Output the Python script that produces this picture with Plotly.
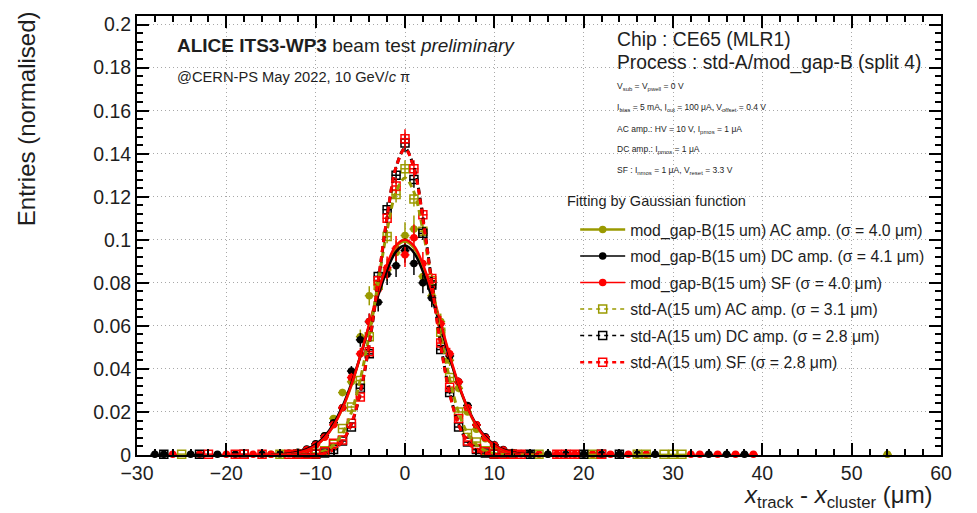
"""CE65 residual distributions (std-A vs mod_gap-B) with Gaussian fits."""

import plotly.graph_objects as go

# ---- data ----
# mod_gap-B, AC amp. (filled olive)
modac_x = [-15, -13, -12, -11, -10, -9, -8, -7, -6, -5, -4, -3, -2, -1, 0, 1, 2, 3, 4, 5,
           6, 7, 8, 9, 10, 11, 12, 14, 16, 21, 54]
modac_y = [0.0004, 0.0008, 0.0012, 0.0025, 0.005, 0.009, 0.017, 0.029, 0.034, 0.055, 0.074,
           0.079, 0.086, 0.094, 0.102, 0.105, 0.083, 0.074, 0.062, 0.044, 0.031, 0.020, 0.012,
           0.0075, 0.004, 0.0022, 0.001, 0.0005, 0.0004, 0.0004, 0.0003]

# mod_gap-B, DC amp. (filled black)
moddc_x = [-28, -27, -24, -21, -19, -16, -14, -13, -12, -11, -10, -9, -8, -7, -6, -5, -4, -3,
           -2, -1, 0, 1, 2, 3, 4, 5, 6, 7, 8, 9, 10, 11, 12, 13, 14, 16, 18, 20, 22, 24, 26,
           28, 34, 36, 38]
moddc_y = [0.0003, 0.0003, 0.0003, 0.0003, 0.0003, 0.0004, 0.0005, 0.0008, 0.0013, 0.0028,
           0.0052, 0.009, 0.015, 0.022, 0.039, 0.0535, 0.062, 0.071, 0.084, 0.088, 0.095,
           0.089, 0.080, 0.073, 0.058, 0.046, 0.034, 0.023, 0.014, 0.0085, 0.0048, 0.0026,
           0.0012, 0.0007, 0.0005, 0.0003, 0.0003, 0.0003, 0.0003, 0.0003, 0.0003, 0.0003,
           0.0003, 0.0003, 0.0003]

# mod_gap-B, SF (filled red)
modsf_x = [-26, -23, -20, -17, -15, -13, -12, -11, -10, -9, -8, -7, -6, -5, -4, -3, -2, -1, 0,
           1, 2, 3, 4, 5, 6, 7, 8, 9, 10, 11, 12, 13, 15, 17, 19, 21, 23, 25, 27, 32, 33, 35,
           37, 39]
modsf_y = [0.0003, 0.0003, 0.0003, 0.0003, 0.0003, 0.0006, 0.0011, 0.0024, 0.0046, 0.0082,
           0.014, 0.022, 0.036, 0.047, 0.062, 0.077, 0.087, 0.096, 0.093, 0.101, 0.089, 0.078,
           0.061, 0.047, 0.034, 0.022, 0.014, 0.008, 0.0045, 0.0023, 0.0011, 0.0006, 0.0003,
           0.0003, 0.0003, 0.0003, 0.0003, 0.0003, 0.0003, 0.0003, 0.0003, 0.0003, 0.0003,
           0.0003]

# std-A, AC amp. (open olive)
stdac_x = [-25, -14, -12, -11, -10, -9, -8, -7, -6, -5, -4, -3, -2, -1, 0, 1, 2, 3, 4, 5, 6,
           7, 8, 9, 10, 11, 12, 15, 21, 26, 27, 29, 30, 31]
stdac_y = [0.0004, 0.0004, 0.0004, 0.0005, 0.0008, 0.002, 0.005, 0.0123, 0.0223, 0.0346,
           0.055, 0.079, 0.1015, 0.121, 0.133, 0.119, 0.104, 0.081, 0.057, 0.036, 0.020,
           0.010, 0.006, 0.002, 0.0008, 0.0004, 0.0004, 0.0003, 0.0003, 0.0003, 0.0003,
           0.0003, 0.0003, 0.0003]

# std-A, DC amp. (open black)
stddc_x = [-27, -23, -18, -12, -11, -10, -9, -8, -7, -6, -5, -4, -3, -2, -1, 0, 1, 2, 3, 4,
           5, 6, 7, 8, 9, 10, 11, 12, 14, 20, 22, 24]
stddc_y = [0.0003, 0.0003, 0.0003, 0.0004, 0.0005, 0.0003, 0.0009, 0.0025, 0.0065, 0.013,
           0.031, 0.047, 0.083, 0.114, 0.130, 0.145, 0.128, 0.103, 0.079, 0.049, 0.029,
           0.013, 0.006, 0.0025, 0.0009, 0.0003, 0.0004, 0.0003, 0.0003, 0.0003, 0.0003,
           0.0003]

# std-A, SF (open red)
stdsf_x = [-22, -19, -18, -16, -13, -12, -11, -10, -9, -8, -7, -6, -5, -4, -3, -2, -1, 0, 1,
           2, 3, 4, 5, 6, 7, 8, 9, 10, 11, 12, 13, 17, 18, 19, 22]
stdsf_y = [0.0004, 0.0004, 0.0004, 0.0004, 0.0004, 0.0004, 0.0004, 0.0005, 0.0015, 0.0055,
           0.007, 0.0147, 0.027, 0.048, 0.081, 0.110, 0.125, 0.147, 0.133, 0.1116, 0.082,
           0.052, 0.0315, 0.017, 0.0065, 0.003, 0.0015, 0.0005, 0.0004, 0.0004, 0.0004,
           0.0004, 0.0004, 0.0004, 0.0004]

# Gaussian fit curves, sampled every 1 um
fit_x = [-15, -14, -13, -12, -11, -10, -9, -8, -7, -6, -5, -4, -3, -2, -1, 0,
         1, 2, 3, 4, 5, 6, 7, 8, 9, 10, 11, 12, 13, 14, 15]
fit_modac = [0.0001, 0.0002, 0.0005, 0.0011, 0.0023, 0.0044, 0.0079, 0.0135, 0.0216, 0.0323,
             0.0457, 0.0605, 0.0753, 0.0880, 0.0967, 0.0992, 0.0962, 0.0875, 0.0750, 0.0603,
             0.0456, 0.0322, 0.0215, 0.0134, 0.0078, 0.0043, 0.0022, 0.0011, 0.0005, 0.0002,
             0.0001]
fit_moddc = [0.0001, 0.0003, 0.0007, 0.0014, 0.0027, 0.0050, 0.0087, 0.0145, 0.0226, 0.0333,
             0.0459, 0.0601, 0.0741, 0.0860, 0.0945, 0.0973, 0.0940, 0.0852, 0.0731, 0.0592,
             0.0451, 0.0326, 0.0221, 0.0141, 0.0085, 0.0048, 0.0026, 0.0013, 0.0006, 0.0003,
             0.0001]
fit_modsf = [0.0001, 0.0002, 0.0005, 0.0011, 0.0023, 0.0044, 0.0080, 0.0136, 0.0218, 0.0326,
             0.0461, 0.0609, 0.0758, 0.0886, 0.0974, 0.1000, 0.0972, 0.0886, 0.0760, 0.0612,
             0.0463, 0.0329, 0.0220, 0.0138, 0.0081, 0.0045, 0.0023, 0.0011, 0.0005, 0.0002,
             0.0001]
fit_stdac = [0.0, 0.0, 0.0, 0.0001, 0.0002, 0.0007, 0.0019, 0.0047, 0.0101, 0.0198, 0.0352,
             0.0559, 0.0803, 0.1045, 0.1222, 0.1287, 0.1222, 0.1045, 0.0803, 0.0559, 0.0352,
             0.0198, 0.0101, 0.0047, 0.0019, 0.0007, 0.0002, 0.0001, 0.0, 0.0, 0.0]
fit_stddc = [0.0, 0.0, 0.0, 0.0, 0.0, 0.0002, 0.0008, 0.0024, 0.0063, 0.0143, 0.0289, 0.0514,
             0.0803, 0.1104, 0.1337, 0.1425, 0.1337, 0.1104, 0.0803, 0.0514, 0.0289, 0.0143,
             0.0063, 0.0024, 0.0008, 0.0002, 0.0, 0.0, 0.0, 0.0, 0.0]
fit_stdsf = [0.0, 0.0, 0.0, 0.0, 0.0, 0.0002, 0.0008, 0.0025, 0.0064, 0.0146, 0.0293, 0.0519,
             0.0809, 0.1108, 0.1338, 0.1423, 0.1333, 0.1098, 0.0796, 0.0508, 0.0285, 0.0141,
             0.0062, 0.0024, 0.0008, 0.0002, 0.0, 0.0, 0.0, 0.0, 0.0]

names = [
    "mod_gap-B(15 um) AC amp. (σ = 4.0 μm)",
    "mod_gap-B(15 um) DC amp. (σ = 4.1 μm)",
    "mod_gap-B(15 um) SF (σ = 4.0 μm)",
    "std-A(15 um) AC amp. (σ = 3.1 μm)",
    "std-A(15 um) DC amp. (σ = 2.8 μm)",
    "std-A(15 um) SF (σ = 2.8 μm)",
]

OLIVE = "#9a9a00"
series = [
    (modac_x, modac_y, fit_modac, OLIVE, False),
    (moddc_x, moddc_y, fit_moddc, "black", False),
    (modsf_x, modsf_y, fit_modsf, "#ff0000", False),
    (stdac_x, stdac_y, fit_stdac, OLIVE, True),
    (stddc_x, stddc_y, fit_stddc, "black", True),
    (stdsf_x, stdsf_y, fit_stdsf, "#ff0000", True),
]

FONT = "Liberation Sans, Arial, Helvetica, sans-serif"
TXT = "#1e1e1e"

fig = go.Figure()

# data points
for xs, ys, _, col, is_std in series:
    fig.add_trace(go.Scatter(
        x=xs, y=ys, mode="markers", showlegend=False, cliponaxis=False,
        marker=dict(symbol="square-open" if is_std else "circle",
                    size=8 if is_std else 6, color=col,
                    line=dict(color=col, width=1.5)),
        error_x=dict(type="constant", value=0.5, color=col, thickness=1.5, width=0),
        error_y=dict(type="percent", value=3 if is_std else 6, color=col,
                     thickness=1.5, width=0),
    ))

# fit curves
for _, _, fy, col, is_std in series:
    fig.add_trace(go.Scatter(
        x=fit_x, y=fy, mode="lines", showlegend=False, hoverinfo="skip",
        line=dict(color=col, width=3 if is_std else 2.5, shape="spline",
                  dash="6px,4px" if is_std else "solid"),
    ))

# legend entries
leg_width = [2.5, 1.5, 1.5, 1.5, 1.5, 2.5]
for i, ((_, _, _, col, is_std), name) in enumerate(zip(series, names)):
    fig.add_trace(go.Scatter(
        x=[None], y=[None], mode="lines+markers", name=name, legendgroup=str(i),
        line=dict(color=col, width=leg_width[i], dash="4px,4px" if is_std else "solid"),
        marker=dict(symbol="square-open" if is_std else "circle",
                    size=8 if is_std else 6, color=col, line=dict(color=col, width=1.5)),
    ))

axis_common = dict(
    showline=True, linecolor="black", linewidth=2, mirror="ticks",
    ticks="inside", tickcolor="black", tickwidth=1.5, ticklen=12,
    showgrid=True, gridcolor="#a8a8a8", griddash="1px,3px", gridwidth=1.2,
    zeroline=False, tickfont=dict(family=FONT, size=19.5, color=TXT),
)

fig.update_xaxes(range=[-30, 60], dtick=10, tick0=0,
                 minor=dict(dtick=2, ticks="inside", ticklen=6, tickcolor="black",
                            tickwidth=1.5, showgrid=False),
                 **axis_common)
fig.update_yaxes(range=[0, 0.204], dtick=0.02, tick0=0,
                 minor=dict(dtick=0.004, ticks="inside", ticklen=6, tickcolor="black",
                            tickwidth=1.5, showgrid=False),
                 **axis_common)

notes = [
    (0.047, 0.932, "<b>ALICE ITS3-WP3</b> beam test <i>preliminary</i>", 19),
    (0.047, 0.860, "@CERN-PS May 2022, 10 GeV/<i>c</i> π", 14.7),
    (0.595, 0.946, "Chip : CE65 (MLR1)", 19.3),
    (0.595, 0.894, "Process : std-A/mod_gap-B (split 4)", 19.3),
    (0.595, 0.839, "V<sub>sub</sub> = V<sub>pwell</sub> = 0 V", 8.5),
    (0.595, 0.792, "I<sub>bias</sub> = 5 mA, I<sub>cut</sub> = 100 μA, "
                   "V<sub>offset</sub> = 0.4 V", 8.5),
    (0.595, 0.742, "AC amp.: HV = 10 V, I<sub>pmos</sub> = 1 μA", 8.5),
    (0.595, 0.695, "DC amp.: I<sub>pmos</sub> = 1 μA", 8.5),
    (0.595, 0.647, "SF : I<sub>nmos</sub> = 1 μA, V<sub>reset</sub> = 3.3 V", 8.5),
    (0.532, 0.579, "Fitting by Gaussian function", 14.5),
]
annotations = [
    dict(x=x, y=y, xref="paper", yref="paper", xanchor="left", yanchor="middle",
         text=t, showarrow=False, font=dict(family=FONT, size=s, color=TXT))
    for x, y, t, s in notes
]
annotations.append(dict(
    x=-0.138, y=0.765, xref="paper", yref="paper", xanchor="center", yanchor="middle",
    textangle=-90, text="Entries (normalised)", showarrow=False,
    font=dict(family=FONT, size=24, color=TXT)))
annotations.append(dict(
    x=0.993, y=-0.094, xref="paper", yref="paper", xanchor="right", yanchor="middle",
    text="<i>x</i><sub>track</sub> - <i>x</i><sub>cluster</sub> (μm)", showarrow=False,
    font=dict(family=FONT, size=24, color=TXT)))

fig.update_layout(
    width=977, height=513,
    margin=dict(l=129, r=44, t=5, b=66),
    paper_bgcolor="white", plot_bgcolor="white",
    font=dict(family=FONT, color=TXT),
    annotations=annotations,
    legend=dict(x=0.545, y=0.552, xanchor="left", yanchor="top",
                bgcolor="rgba(0,0,0,0)", font=dict(family=FONT, size=15.8, color=TXT),
                itemwidth=45, tracegroupgap=3, traceorder="grouped"),
    showlegend=True,
)

fig.write_html("out.html")
